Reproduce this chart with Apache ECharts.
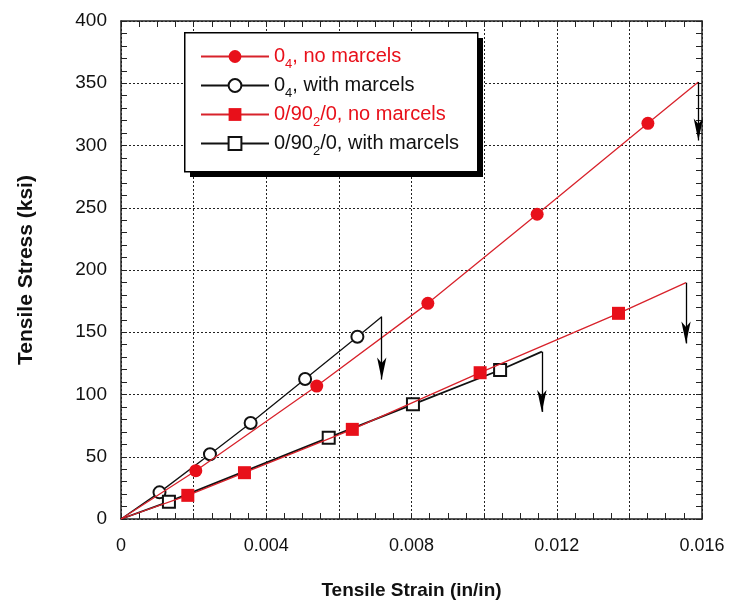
<!DOCTYPE html>
<html>
<head>
<meta charset="utf-8">
<script src="https://cdn.jsdelivr.net/npm/echarts@6/dist/echarts.min.js"></script>
<style>
  html, body { margin: 0; background: #fff; }
  #chart { width: 735px; height: 608px; }
</style>
</head>
<body>
<div id="chart"></div>
<script>
// series names, "_N" marks a subscript digit
const seriesNames = ['0_4, no marcels', '0_4, with marcels', '0/90_2/0, no marcels', '0/90_2/0, with marcels'];

// 0_4, no marcels (first and last point carry no marker)
const redCircleX = [0, 0.00206, 0.00539, 0.00845, 0.01146, 0.01451, 0.0159];
const redCircleY = [0, 38.8, 106.8, 173.2, 244.8, 317.8, 351];

// 0_4, with marcels
const openCircleX = [0, 0.00106, 0.00245, 0.00357, 0.00507, 0.00651, 0.00718];
const openCircleY = [0, 21.4, 52.0, 77.1, 112.4, 146.4, 162.5];

// 0/90_2/0, no marcels
const redSquareX = [0, 0.00184, 0.0034, 0.00637, 0.00989, 0.0137, 0.01556];
const redSquareY = [0, 19.0, 37.2, 72.0, 117.5, 165.2, 189.8];

// 0/90_2/0, with marcels
const openSquareX = [0, 0.00132, 0.00572, 0.00804, 0.01044, 0.01159];
const openSquareY = [0, 13.9, 65.3, 92.1, 119.7, 134.4];

// failure arrows: x, start stress, tip stress
const arrowX = [0.0159, 0.00718, 0.01556, 0.01159];
const arrowTop = [351, 162.5, 189.8, 134.4];
const arrowTip = [304, 112, 141, 86];

const xTickLabels = ['0', '0.004', '0.008', '0.012', '0.016'];

const RED = '#e8101a';
const RED_LINE = '#d8222b';
const FONT = "'Liberation Sans', Arial, sans-serif";

function points(xs, ys) {
  return xs.map((x, i) => {
    const p = { value: [x, ys[i]] };
    if (i === 0 || i === xs.length - 1) p.symbol = 'none';
    return p;
  });
}

function arrow(i) {
  return {
    silent: true,
    animation: false,
    symbol: ['none', 'arrow'],
    symbolSize: [7, 22],
    label: { show: false },
    emphasis: { disabled: true },
    itemStyle: { color: '#000' },
    lineStyle: { color: '#000', width: 1.3, type: 'solid' },
    data: [[{ coord: [arrowX[i], arrowTop[i]] }, { coord: [arrowX[i], arrowTip[i]] }]]
  };
}

function legendLabel(name) {
  const parts = name.split(/_(\d)/);
  return '{t|' + parts[0] + '}{s|' + parts[1] + '}{t|' + parts[2] + '}';
}

const chart = echarts.init(document.getElementById('chart'));

const tickStyle = { inside: true, length: 6, lineStyle: { color: '#222', width: 1 } };
const minorStyle = { length: 6, lineStyle: { color: '#222', width: 1 } };
const axisLineStyle = { show: true, onZero: false, lineStyle: { color: '#222', width: 1.5 } };
const gridLineStyle = { show: true, lineStyle: { color: '#222', width: 1, type: [2, 2] } };

chart.setOption({
  animation: false,
  backgroundColor: '#fff',
  grid: { left: 121, right: 33, top: 21, bottom: 89 },
  // legend frame with a solid drop shadow
  graphic: [
    { type: 'rect', left: 190, top: 38, z: 20, shape: { width: 293, height: 139 }, style: { fill: '#000' }, silent: true },
    { type: 'rect', left: 184, top: 32, z: 21, shape: { width: 293, height: 139 }, style: { fill: '#fff', stroke: '#000', lineWidth: 1.5 }, silent: true }
  ],
  legend: {
    orient: 'vertical',
    left: 200,
    top: 42,
    z: 30,
    padding: 0,
    itemWidth: 68,
    itemHeight: 16,
    itemGap: 0,
    selectedMode: false,
    formatter: legendLabel,
    textStyle: {
      fontFamily: FONT,
      fontSize: 20,
      color: '#111',
      rich: {
        t: { fontSize: 20, lineHeight: 22 },
        s: { fontSize: 13, lineHeight: 22, padding: [16, 0, 0, 0] }
      }
    },
    data: [
      { name: seriesNames[0], textStyle: { color: RED } },
      { name: seriesNames[1], textStyle: { color: '#111' } },
      { name: seriesNames[2], textStyle: { color: RED } },
      { name: seriesNames[3], textStyle: { color: '#111' } }
    ]
  },
  xAxis: [
    {
      type: 'value',
      min: 0,
      max: 0.016,
      interval: 0.002,
      name: 'Tensile Strain (in/in)',
      nameLocation: 'middle',
      nameGap: 62,
      nameTextStyle: { fontFamily: FONT, fontSize: 19, fontWeight: 'bold', color: '#111' },
      axisLine: axisLineStyle,
      axisTick: tickStyle,
      minorTick: Object.assign({ show: true, splitNumber: 4 }, minorStyle),
      splitLine: gridLineStyle,
      axisLabel: {
        margin: 18,
        fontFamily: FONT,
        fontSize: 18,
        color: '#111',
        formatter: (v) => {
          const k = Math.round(v / 0.004 * 1000) / 1000;
          return Number.isInteger(k) ? xTickLabels[k] : '';
        }
      }
    },
    {
      type: 'value',
      position: 'top',
      min: 0,
      max: 0.016,
      interval: 0.002,
      axisLine: axisLineStyle,
      axisTick: tickStyle,
      minorTick: Object.assign({ show: true, splitNumber: 4 }, minorStyle),
      splitLine: { show: false },
      axisLabel: { show: false }
    }
  ],
  yAxis: [
    {
      type: 'value',
      min: 0,
      max: 400,
      interval: 50,
      name: 'Tensile Stress (ksi)',
      nameLocation: 'middle',
      nameGap: 84,
      nameTextStyle: { fontFamily: FONT, fontSize: 21, fontWeight: 'bold', color: '#111' },
      axisLine: axisLineStyle,
      axisTick: tickStyle,
      minorTick: Object.assign({ show: true, splitNumber: 5 }, minorStyle),
      splitLine: gridLineStyle,
      axisLabel: { margin: 14, fontFamily: FONT, fontSize: 19, color: '#111' }
    },
    {
      type: 'value',
      position: 'right',
      min: 0,
      max: 400,
      interval: 50,
      axisLine: axisLineStyle,
      axisTick: tickStyle,
      minorTick: Object.assign({ show: true, splitNumber: 5 }, minorStyle),
      splitLine: { show: false },
      axisLabel: { show: false }
    }
  ],
  series: [
    {
      name: seriesNames[0],
      type: 'line',
      z: 4,
      data: points(redCircleX, redCircleY),
      symbol: 'circle',
      symbolSize: 13,
      lineStyle: { color: RED_LINE, width: 1.3 },
      itemStyle: { color: RED },
      emphasis: { disabled: true },
      markLine: arrow(0)
    },
    {
      name: seriesNames[1],
      type: 'line',
      z: 3,
      data: points(openCircleX, openCircleY),
      symbol: 'emptyCircle',
      symbolSize: 12,
      lineStyle: { color: '#111', width: 1.3 },
      itemStyle: { color: '#111', borderWidth: 1.5 },
      emphasis: { disabled: true },
      markLine: arrow(1)
    },
    {
      name: seriesNames[2],
      type: 'line',
      z: 4,
      data: points(redSquareX, redSquareY),
      symbol: 'rect',
      symbolSize: 13,
      lineStyle: { color: RED_LINE, width: 1.3 },
      itemStyle: { color: RED },
      emphasis: { disabled: true },
      markLine: arrow(2)
    },
    {
      name: seriesNames[3],
      type: 'line',
      z: 3,
      data: points(openSquareX, openSquareY),
      symbol: 'emptyRect',
      symbolSize: 12,
      lineStyle: { color: '#111', width: 1.8 },
      itemStyle: { color: '#111', borderWidth: 1.5 },
      emphasis: { disabled: true },
      markLine: arrow(3)
    }
  ]
});
</script>
</body>
</html>
